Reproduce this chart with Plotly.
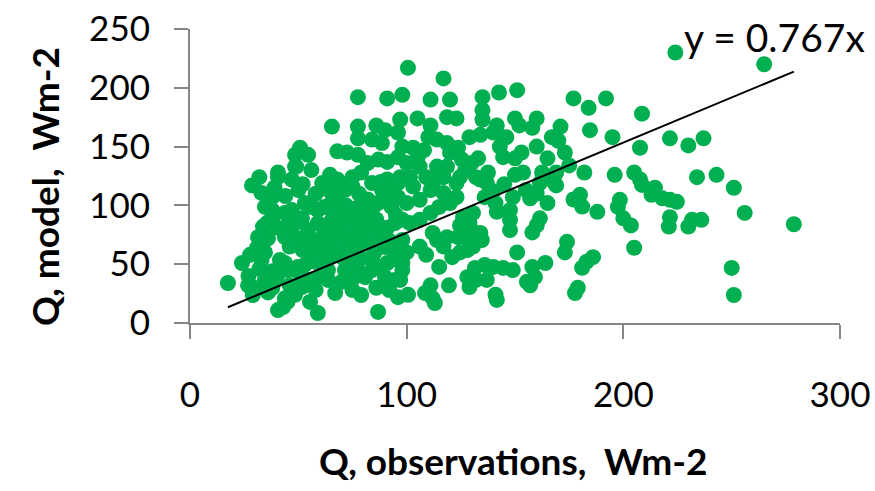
import plotly.graph_objects as go

# Heat flux Q: observed (x) vs modelled (y), W m-2
obs_x = [
    77.5, 91, 100.6, 98, 65.5, 77.5, 86, 90, 77.5, 84, 88.6, 97, 96, 50.8, 48.5, 54.5, 49, 56, 68, 72.5,
    77.5, 82, 87, 91, 96, 32, 40.6, 47, 64.6, 75, 79, 98,
    117, 111, 120, 135, 142.6, 151, 177, 184, 192, 105, 111, 118.6, 123, 135, 135, 141.6, 150, 152,
    160, 158, 171, 167, 184.6, 110, 114, 118.6, 123.7, 129, 134, 140, 146, 143, 144.5, 153, 173, 175,
    103, 100, 106, 114, 118.6, 125.5, 130, 133, 137.5, 150, 153.7, 162.5, 169, 182, 109, 115, 124.6, 132,
    224, 265, 208.6, 195, 221.5, 207.7, 230, 237, 196, 205, 207.7, 234, 243,
    251, 208.6, 214.6, 213, 218, 221.5, 224.7, 198.4, 197.5, 200, 203.5, 221.5, 221, 231.7, 230, 236,
    256, 278.7, 205, 250, 251,
    134, 137, 169, 168, 180, 177, 181, 188, 136, 141, 141.6, 149, 157, 165, 147.7, 147.7, 147.7, 161.5,
    160, 158, 174, 173, 186, 183, 181, 179, 177.7, 151, 164, 158, 159.2, 155.5, 157,
    149, 144.5, 140, 136, 131.5, 128, 129, 132, 137, 141, 141.6, 115, 119.5, 111, 108.5, 112, 113, 100.6,
    97, 121, 124.6, 128, 130.6, 134.7, 123.7, 128, 130, 134, 109, 106, 100, 117, 114, 112, 118.6, 124.6,
    129, 126, 130.6, 98, 97, 101.5, 106, 111, 115, 120, 123, 117, 123, 100, 106, 111, 103, 97, 101.5,
    117, 165, 161.5,
    17.5, 40.6, 55.4, 59, 86.8, 24, 27.7, 31, 26.8, 30, 29, 34.6, 38, 36, 43.8, 45, 43, 48.5, 51.7, 56,
    59, 33, 34.6, 33.7, 36, 31.4, 41.5, 43.8, 41.5, 45, 48.5, 49.8, 53, 51.7, 54, 56, 59, 62, 65.5, 68,
    70, 75, 77.5, 80.8, 84, 75, 77.5, 80.8, 76, 71.5, 63.7, 63.7, 75, 79, 67, 84, 88.6, 91, 90, 94.6,
    85, 84, 96, 98, 98,
    28.6, 33, 38, 40.6, 50, 48.5,
    34.6, 38, 35.5, 33.7, 38, 40.6,
    43.8, 47, 45, 48.5, 51.7, 54.5, 53, 48.5, 43.8,
    53, 56, 59, 62, 65.5, 68, 71.5, 75,
    61, 68, 84, 88.6, 91, 96,
    59, 62, 65.5, 68, 71.5, 75, 77.5, 80.8, 84, 86.8, 90, 93, 96,
    56, 59, 62, 65.5, 68, 71.5, 75, 77.5, 80.8, 84, 88.6, 91, 94.6, 98,
    85, 90, 94.6, 96, 98,
    39, 44, 52, 58, 64, 70, 78, 82, 88, 93, 46, 52, 58, 64, 70, 74, 79, 86, 92, 95,
    66, 72, 78, 40, 46, 58, 70, 86, 92, 27, 32, 38, 105, 108, 120, 127, 112, 140, 145, 155,
    160, 150, 160, 170, 165,
]
model_y = [
    192, 191, 217, 194, 167, 167, 168, 164, 157, 156, 153, 173, 162, 149, 143, 143, 133, 130, 146, 145,
    143, 136, 139, 137, 141, 124, 128, 122, 126, 124, 128, 150,
    208, 190, 190, 192, 196, 198, 191, 183, 191, 174, 168, 175, 174, 181, 173, 168, 174, 168,
    174, 166, 167, 158, 164, 158, 156, 153, 149, 158, 160, 162, 158, 150, 141, 145, 145, 134,
    149, 136, 133, 133, 133, 139, 136, 140, 128, 126, 128, 128, 128, 128, 124, 126, 124, 124,
    230, 220, 178, 158, 157, 149, 151, 157, 126, 128, 122, 124, 126,
    115, 117.4, 115, 109, 106, 104.7, 103, 104.7, 98.7, 89, 83, 90, 82, 87.7, 82, 87.7,
    93.6, 84, 64, 46.8, 23.8,
    122, 119, 117, 120, 109, 105, 99, 94.5, 107, 102, 94.5, 107, 106, 102, 96, 87.7, 79, 89,
    83, 77, 69, 60, 56, 52, 47, 30, 25.5, 60, 51, 47.7, 39, 35, 32,
    45, 46.8, 47.7, 49.4, 46.8, 39, 30.6, 36.6, 36.6, 24, 19.6, 47.7, 32, 32, 25.5, 21, 17, 24,
    36.6, 56, 60, 62, 65, 70.6, 73, 72, 79, 76.6, 58, 65, 60, 65, 70.6, 76.6, 73, 83,
    85, 90, 93.6, 70.6, 62, 85, 87.7, 93.6, 98.7, 102, 107, 110.6, 119, 102, 104.7, 113, 116, 124, 124,
    124, 123, 119,
    34, 11, 17.9, 8.5, 9.4, 51, 58, 64, 32, 29.8, 23.8, 36.6, 30, 26, 21, 18, 13.6, 24, 30.6, 35,
    39, 53.6, 60, 68, 72, 73, 53.6, 51, 45, 45, 45, 47.7, 49.4, 39, 36.6, 56, 59.6, 59.6, 62, 64,
    56, 62, 62, 68, 70.6, 51, 45, 39, 39, 45, 45, 36.6, 28, 23.8, 25.5, 45, 47.7, 51, 39, 36.6,
    59.6, 53.6, 22, 51, 59.6,
    117, 110.6, 107, 124, 113, 133,
    98.7, 96, 85, 82, 90, 81,
    93.6, 96, 83, 85, 89, 79, 73, 73, 73,
    102, 98.7, 96, 98.7, 103, 107, 113, 116,
    119, 122, 119, 113, 122, 119,
    85, 79, 87.7, 82, 90, 85, 93.6, 87.7, 96, 102, 104.7, 98.7, 107,
    68, 70.6, 73, 70.6, 73, 76.6, 73, 76.6, 79, 82, 76.6, 81, 85, 87.7,
    73, 64.6, 59.6, 53.6, 45,
    115, 108, 118, 110, 113, 118, 110, 105, 120, 112, 65, 62, 52, 55, 66, 80, 55, 88, 70, 92,
    95, 100, 99, 38, 32, 28, 35, 30, 28, 40, 46, 44, 140, 147, 145, 130, 118, 112, 118, 113,
    110, 140, 150, 155, 140,
]

# Linear trend through the origin
slope = 0.767
trend_x = [min(obs_x), max(obs_x)]
trend_y = [slope * v for v in trend_x]

x_ticks = [0, 100, 200, 300]
y_ticks = [0, 50, 100, 150, 200, 250]

x_title = "Q, observations,  Wm-2"
y_title = "Q, model,  Wm-2"

fig = go.Figure()
fig.add_trace(go.Scatter(
    x=obs_x, y=model_y, mode="markers",
    marker=dict(size=16, color="#00B050", line=dict(width=0)),
    showlegend=False, hoverinfo="x+y",
))
fig.add_trace(go.Scatter(
    x=trend_x, y=trend_y, mode="lines",
    line=dict(color="black", width=2),
    showlegend=False, hoverinfo="skip",
))

# Trendline equation
fig.add_annotation(
    x=227.1, y=243, xref="x", yref="y",
    text=f"y = {slope}x", showarrow=False,
    xanchor="left", yanchor="middle",
    font=dict(family="Lato", size=39, color="black"),
)

# Axis titles placed as annotations in paper space
fig.add_annotation(
    x=0.497, y=-0.466, xref="paper", yref="paper",
    text=f"<b>{x_title}</b>", showarrow=False,
    xanchor="center", yanchor="middle",
    font=dict(family="Lato", size=37, color="black"),
)
fig.add_annotation(
    x=-0.223, y=0.463, xref="paper", yref="paper",
    text=f"<b>{y_title}</b>", showarrow=False, textangle=-90,
    xanchor="center", yanchor="middle",
    font=dict(family="Lato", size=37, color="black"),
)

axis_common = dict(
    showgrid=False, zeroline=False,
    showline=True, linecolor="#868686", linewidth=2,
    ticks="outside", tickcolor="#868686", tickwidth=2, ticklen=14,
    tickfont=dict(family="Lato", size=35, color="black"),
)

fig.update_xaxes(range=[0, 300], tickvals=x_ticks, ticklabelstandoff=26, **axis_common)
fig.update_yaxes(range=[0, 250], tickvals=y_ticks, ticklabelstandoff=17, **axis_common)

fig.update_layout(
    width=875, height=491,
    margin=dict(l=190, r=35, t=29, b=168, autoexpand=False),
    plot_bgcolor="white", paper_bgcolor="white",
)

fig.write_html("out.html")
